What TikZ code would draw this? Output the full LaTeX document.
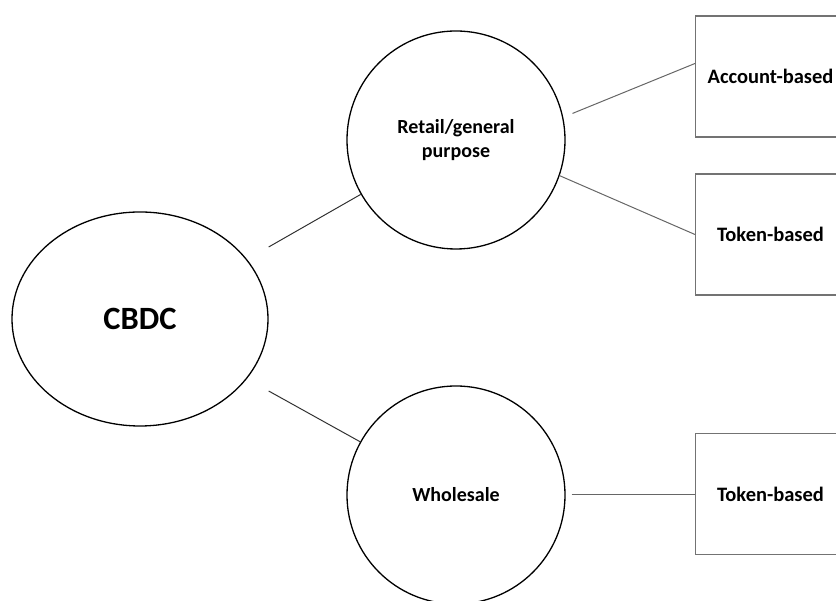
\documentclass[tikz,border=0pt]{standalone}
\usepackage{fontspec}
\setmainfont{Carlito}
\usetikzlibrary{shapes,calc}
\tikzset{
  oval/.style={ellipse, draw=black, line width=1.3pt, minimum width=256pt,
               minimum height=214pt, inner sep=0pt,
               font=\bfseries\fontsize{32.5}{38}\selectfont},
  bubble/.style={circle, draw=black, line width=1.3pt, minimum size=218pt,
                 inner sep=0pt, align=center,
                 font=\bfseries\fontsize{20}{24}\selectfont},
  rbox/.style={rectangle, draw=black!55, line width=1.1pt, minimum width=150pt,
               minimum height=121pt, inner sep=0pt,
               font=\bfseries\fontsize{20.5}{24}\selectfont},
  lnk/.style={line width=1pt, color=black!80},
  lnkg/.style={line width=1pt, color=black!60},
}

\begin{document}
\begin{tikzpicture}[x=1pt, y=1pt]
    \useasboundingbox (0,0) rectangle (836,601);
    \clip (0,0) rectangle (836,601);
    \node[oval]   (cbdc)   at (140,282)   {CBDC};
    \node[bubble] (retail) at (456,461)   {Retail/general\\purpose};
    \node[bubble] (whole)  at (456,106)   {Wholesale};
    \node[rbox]   (acc)    at (770.5,524.5) {Account-based};
    \node[rbox]   (tokr)   at (770.5,366.5) {Token-based};
    \node[rbox]   (tokw)   at (770.5,107)   {Token-based};
    \draw[lnk] ([yshift=72pt]cbdc.east) -- (retail);
    \draw[lnk] ([yshift=-72pt]cbdc.east) -- (whole);
    \draw[lnkg, shorten <=10pt] (retail.12) -- ([yshift=13pt]acc.west);
    \draw[lnkg] (retail.-19) -- (tokr.west);
    \draw[lnkg, shorten <=6pt] (whole.east) -- (whole.east -| tokw.west);
  \end{tikzpicture}
\end{document}
